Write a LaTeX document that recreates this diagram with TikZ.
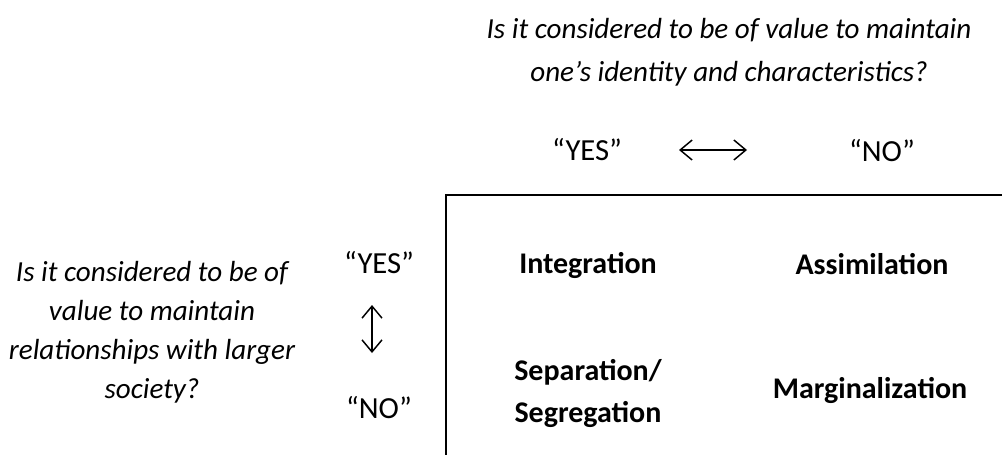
\documentclass[tikz,border=0pt]{standalone}
\usepackage{fontspec}
\setmainfont{Carlito}
\usetikzlibrary{positioning,arrows.meta}

\begin{document}
\begin{tikzpicture}[
  x=0.75pt, y=-0.75pt,
  quest/.style={font=\fontsize{21.8}{32}\selectfont\itshape, align=center, inner sep=0pt},
  answ/.style={font=\fontsize{23}{26}\selectfont, inner sep=0pt, anchor=base},
  strat/.style={font=\fontsize{22.5}{31.5}\selectfont\bfseries, align=center, inner sep=0pt},
  dbl/.style={{Straight Barb[length=9pt,width=15pt]}-{Straight Barb[length=9pt,width=15pt]}, line width=1.1pt}
]
\useasboundingbox (0,0) rectangle (1002,455);

% questions
\node[quest] (qtop) at (729,52) {Is it considered to be of value to maintain\\one’s identity and characteristics?};
\node[quest, font=\fontsize{21.8}{29.3}\selectfont\itshape] (qleft) at (152,332) {Is it considered to be of\\value to maintain\\relationships with larger\\society?};

% answers
\node[answ] (yestop) at (587,160) {“YES”};
\node[answ] (notop) at (882,161) {“NO”};
\node[answ] (yesleft) at (379,273) {“YES”};
\node[answ] (noleft) at (379,418) {“NO”};
\coordinate (al) at (679,150);
\coordinate (ar) at (747,150);
\coordinate (au) at (372,305);
\coordinate (ad) at (372,353);

% frame
\draw[line width=0.8pt] (1002,195) -- (446,195) -- (446,455);

% strategies
\node[strat, anchor=base] (integ) at (588,273) {Integration};
\node[strat, anchor=base] (assim) at (872,274) {Assimilation};
\node[strat] (separ) at (588,393) {Separation/\\Segregation};
\node[strat, anchor=base] (margi) at (870,398) {Marginalization};

\path
(al) edge[dbl] (ar)
(au) edge[dbl] (ad)
;

\end{tikzpicture}
\end{document}
